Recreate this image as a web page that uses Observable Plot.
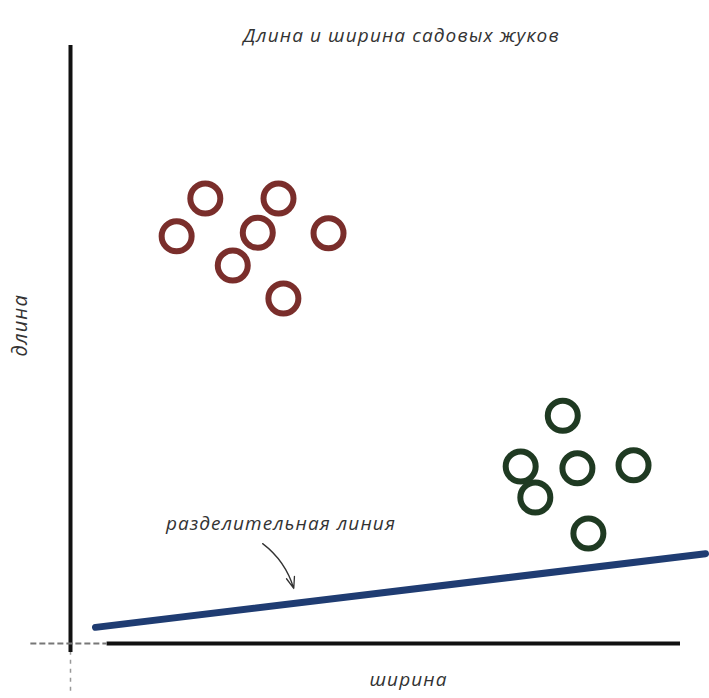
<!DOCTYPE html>
<html>
<head>
<meta charset="utf-8">
<script src="https://cdn.jsdelivr.net/npm/d3@7"></script>
<script src="https://cdn.jsdelivr.net/npm/@observablehq/plot@0.6"></script>
<style>
  html, body { margin: 0; padding: 0; background: #fff; }
  #chart { width: 709px; height: 698px; }
  #chart svg text { letter-spacing: 1.1px; }
</style>
</head>
<body>
<div id="chart"></div>
<script>
// Red beetles (width, length)
const redWidth  = [2.21, 3.41, 1.74, 3.07, 4.23, 2.66, 3.49];
const redLength = [7.44, 7.44, 6.81, 6.87, 6.86, 6.32, 5.77];
// Green beetles
const greenWidth  = [8.07, 7.38, 8.31, 9.23, 7.62, 8.49];
const greenLength = [3.81, 2.96, 2.93, 2.98, 2.44, 1.84];
// Dividing line endpoints
const lineWidth  = [0.41, 10.41];
const lineLength = [0.27, 1.50];
// Texts
const title = "Длина и ширина садовых жуков";
const xLabel = "ширина";
const yLabel = "длина";
const lineLabel = "разделительная линия";

const red = redWidth.map((w, i) => ({w, l: redLength[i]}));
const green = greenWidth.map((w, i) => ({w, l: greenLength[i]}));
const divLine = lineWidth.map((w, i) => ({w, l: lineLength[i]}));

const font = "'Open Sans', sans-serif";

const chart = Plot.plot({
  width: 709,
  height: 698,
  marginLeft: 70,
  marginRight: 29,
  marginTop: 45,
  marginBottom: 55,
  x: {domain: [0, 10], axis: null},
  y: {domain: [0, 10], axis: null},
  style: {fontFamily: font, background: "#fff", overflow: "visible"},
  marks: [
    // y axis
    Plot.ruleX([0], {y1: -0.15, y2: 10, stroke: "#111", strokeWidth: 4}),
    Plot.ruleX([0], {y1: -0.8, y2: -0.15, stroke: "#999", strokeWidth: 1.5, strokeDasharray: "4,5"}),
    // x axis
    Plot.ruleY([0], {x1: 0.6, x2: 10, stroke: "#111", strokeWidth: 4}),
    Plot.ruleY([0], {x1: -0.65, x2: 0.6, stroke: "#777", strokeWidth: 2, strokeDasharray: "6,3"}),
    // dividing line
    Plot.line(divLine, {x: "w", y: "l", stroke: "#1f3c72", strokeWidth: 7, clip: false}),
    // arrow pointing at line
    Plot.arrow([{x1: 3.15, y1: 1.67, x2: 3.66, y2: 0.92}], {
      x1: "x1", y1: "y1", x2: "x2", y2: "y2",
      bend: 18, stroke: "#333", strokeWidth: 1.3, headLength: 14, headAngle: 40
    }),
    Plot.text([lineLabel], {x: 3.45, y: 2.0, text: d => d, fontSize: 19, fontStyle: "italic", fill: "#333"}),
    // beetles
    Plot.dot(red, {x: "w", y: "l", r: 15, stroke: "#7a2e2b", strokeWidth: 6, fill: "none"}),
    Plot.dot(green, {x: "w", y: "l", r: 15, stroke: "#1f3a22", strokeWidth: 6, fill: "none"}),
    // labels
    Plot.text([title], {frameAnchor: "top", dx: 26, dy: -17, text: d => d, fontSize: 19, fontStyle: "italic", fill: "#333"}),
    Plot.text([xLabel], {frameAnchor: "bottom", dx: 33, dy: 42, text: d => d, fontSize: 19, fontStyle: "italic", fill: "#333"}),
    Plot.text([yLabel], {frameAnchor: "left", dx: -50, dy: 12, rotate: -90, text: d => d, fontSize: 20, fontStyle: "italic", fill: "#333"})
  ]
});
document.getElementById("chart").appendChild(chart);
</script>
</body>
</html>
